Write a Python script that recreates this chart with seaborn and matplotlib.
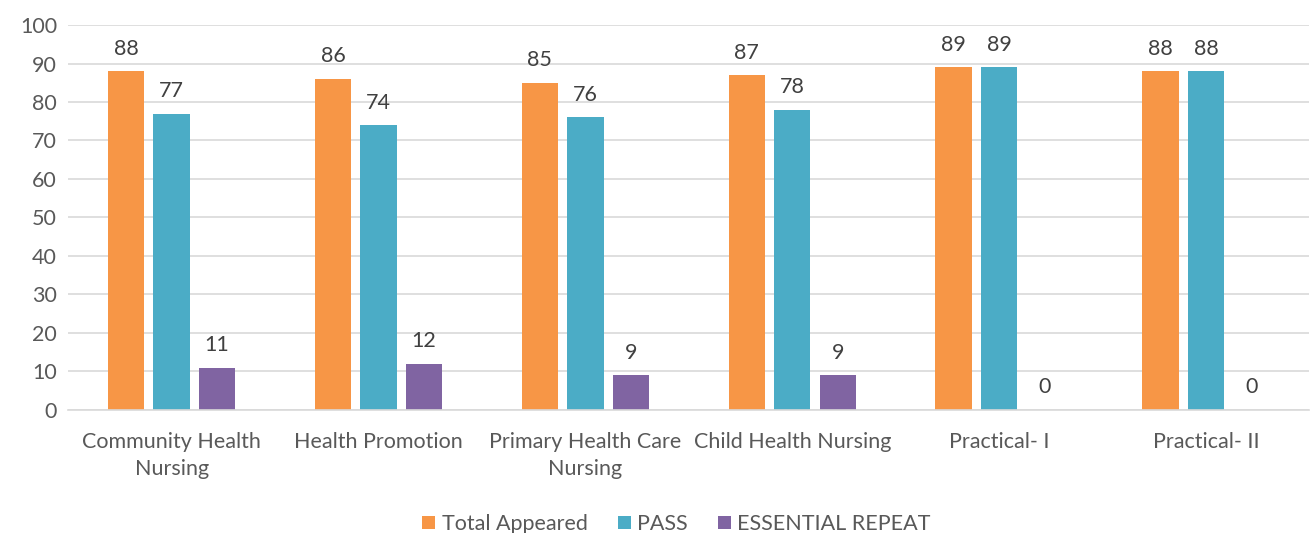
import matplotlib
matplotlib.use("Agg")
import matplotlib.pyplot as plt
import seaborn as sns
import pandas as pd

# data
subjects = ["Community Health\nNursing", "Health Promotion", "Primary Health Care\nNursing",
            "Child Health Nursing", "Practical- I", "Practical- II"]
total_appeared = [88, 86, 85, 87, 89, 88]
passed = [77, 74, 76, 78, 89, 88]
essential_repeat = [11, 12, 9, 9, 0, 0]
series = ["Total Appeared", "PASS", "ESSENTIAL REPEAT"]
colors = ["#F79646", "#4BACC6", "#8064A2"]

df = pd.DataFrame({"Subject": subjects, series[0]: total_appeared,
                   series[1]: passed, series[2]: essential_repeat})
long = df.melt(id_vars="Subject", var_name="Series", value_name="Count")

sns.set_style("white")
plt.rcParams["font.family"] = ["Lato", "DejaVu Sans"]
txt = "#595959"
fs = 15.5

fig = plt.figure(figsize=(13.12, 5.33), dpi=100)
ax = fig.add_axes([0.052, 0.231, 0.946, 0.722])

sns.barplot(data=long, x="Subject", y="Count", hue="Series", hue_order=series,
            palette=colors, width=0.66, gap=0.2, saturation=1, linewidth=0,
            ax=ax, legend=True)

for c in ax.containers:
    ax.bar_label(c, padding=9, fontsize=fs, color="#404040")

ax.set_ylim(0, 100)
ax.set_yticks(range(0, 101, 10))
ax.set_xlim(-0.5, 5.5)
ax.yaxis.grid(True, color="#D9D9D9", linewidth=1.2)
ax.set_axisbelow(True)
for s in ["top", "right", "left"]:
    ax.spines[s].set_visible(False)
ax.spines["bottom"].set_color("#D9D9D9")
ax.spines["bottom"].set_linewidth(1.2)
ax.tick_params(axis="both", length=0, labelsize=fs, colors=txt)
ax.tick_params(axis="x", pad=16)
ax.tick_params(axis="y", pad=8)
for lab in ax.get_xticklabels():
    lab.set_linespacing(1.45)
ax.set_xlabel("")
ax.set_ylabel("")

leg = ax.legend(loc="center", bbox_to_anchor=(0.49, -0.297), ncol=3, frameon=False,
                fontsize=fs, handlelength=0.6, handleheight=0.6, columnspacing=1.4,
                handletextpad=0.3, borderaxespad=0, borderpad=0)
for t in leg.get_texts():
    t.set_color(txt)

fig.savefig("out.png", dpi=100)
